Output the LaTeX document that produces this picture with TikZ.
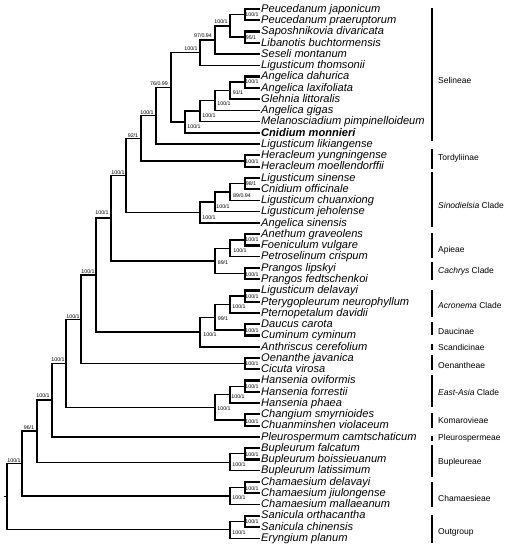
\documentclass[tikz,border=0pt]{standalone}
\usepackage{fontspec}
\setmainfont{Liberation Sans}
\usetikzlibrary{calc}

% clade: [style]{name}{x}{upper child}{lower child}{support}{label x}{label y}
\newcommand{\clade}[8][branch]{%
  \coordinate (#2m) at ($(#4)!0.5!(#5)$);
  \coordinate (#2) at (#3,0|-#2m);
  \draw[#1] (#4) -| (#2) |- (#5);
  \node[support] (#2s) at (#7,#8) {#6};
}

\begin{document}
\begin{tikzpicture}
  [x=1pt, y=-1pt,
    branch/.style={line width=1.4pt},
    cherry/.style={line width=2.2pt},
    bar/.style={line width=1.5pt},
    leaf/.style={
        anchor=west,
        inner sep=1.5pt,
        text height=8.5pt,
        text depth=2pt,
        font=\fontsize{11.1}{12}\selectfont\itshape,
      },
    support/.style={inner sep=0pt, font=\fontsize{5.3}{6}\selectfont},
    group/.style={anchor=west, inner sep=0pt, font=\fontsize{8.5}{10}\selectfont},
  ]
  \useasboundingbox (0,0) rectangle (508,550);

  % taxa
  \foreach \taxon [count=\i] in {Peucedanum japonicum, Peucedanum praeruptorum,
      Saposhnikovia divaricata, Libanotis buchtormensis, Seseli montanum,
      Ligusticum thomsonii, Angelica dahurica, Angelica laxifoliata,
      Glehnia littoralis, Angelica gigas, Melanosciadium pimpinelloideum,
      {\bfseries Cnidium monnieri}, Ligusticum likiangense, Heracleum yungningense,
      Heracleum moellendorffii, Ligusticum sinense, Cnidium officinale,
      Ligusticum chuanxiong, Ligusticum jeholense, Angelica sinensis,
      Anethum graveolens, Foeniculum vulgare, Petroselinum crispum,
      Prangos lipskyi, Prangos fedtschenkoi, Ligusticum delavayi,
      Pterygopleurum neurophyllum, Pternopetalum davidii, Daucus carota,
      Cuminum cyminum, Anthriscus cerefolium, Oenanthe javanica, Cicuta virosa,
      Hansenia oviformis, Hansenia forrestii, Hansenia phaea,
      Changium smyrnioides, Chuanminshen violaceum, Pleurospermum camtschaticum,
      Bupleurum falcatum, Bupleurum boissieuanum, Bupleurum latissimum,
      Chamaesium delavayi, Chamaesium jiulongense, Chamaesium mallaeanum,
      Sanicula orthacantha, Sanicula chinensis, Eryngium planum}
    \node[leaf] (t\i) at (259.5,{9+(\i-1)*11.26}) {\taxon};

  % Selineae
  \clade[cherry]{nA}{245}{t1.west}{t2.west}{100/1}{252}{15}
  \clade[cherry]{nB}{245}{t3.west}{t4.west}{95/1}{251}{38}
  \clade{nC}{230}{nA}{nB}{100/1}{221}{22}
  \clade{nD}{215}{nC}{t5.west}{97/0.94}{203}{36}
  \clade{nE}{200}{nD}{t6.west}{100/1}{191}{49}
  \clade[cherry]{nF}{245}{t7.west}{t8.west}{100/1}{252}{82}
  \clade{nG}{230}{nF}{t9.west}{91/1}{238}{92.5}
  \clade{nH}{215}{nG}{t10.west}{100/1}{224}{104}
  \clade{nI}{200}{nH}{t11.west}{100/1}{209}{116}
  \clade{nJ}{185}{nI}{t12.west}{100/1}{194}{127}
  \clade{nK}{171}{nE}{nJ}{76/0.99}{159}{84}
  \clade{nL}{156}{nK}{t13.west}{100/1}{147}{113}
  % Tordyliinae
  \clade[cherry]{nN}{245}{t14.west}{t15.west}{100/1}{252}{162}
  \clade{nM}{141}{nL}{nN}{92/1}{133}{136}
  % Sinodielsia
  \clade[cherry]{nO}{245}{t16.west}{t17.west}{98/1}{251}{184}
  \clade{nP}{230}{nO}{t18.west}{89/0.94}{242}{196}
  \clade{nQ}{215}{nP}{t19.west}{100/1}{223}{207}
  \clade{nR}{200}{nQ}{t20.west}{100/1}{209}{218}
  \clade{nS}{126}{nM}{nR}{100/1}{118}{173}
  % Apieae and Cachrys
  \clade[cherry]{nT}{245}{t21.west}{t22.west}{100/1}{252}{240}
  \clade{nU}{230}{nT}{t23.west}{100/1}{240}{251}
  \clade[cherry]{nW}{245}{t24.west}{t25.west}{100/1}{252}{275}
  \clade{nV}{215}{nU}{nW}{89/1}{223}{263}
  \clade{nX}{111}{nS}{nV}{100/1}{102}{213}
  % Acronema, Daucinae, Scandicinae
  \clade[cherry]{nAA}{245}{t26.west}{t27.west}{100/1}{252}{297}
  \clade{nAB}{230}{nAA}{t28.west}{100/1}{239}{307}
  \clade[cherry]{nAC}{245}{t29.west}{t30.west}{100/1}{252}{331}
  \clade{nAD}{215}{nAB}{nAC}{99/1}{223}{319}
  \clade{nZ}{200}{nAD}{t31.west}{100/1}{210}{335}
  \clade{nY}{96}{nX}{nZ}{100/1}{88}{272}
  % Oenantheae
  \clade[cherry]{nAE}{245}{t32.west}{t33.west}{100/1}{252}{364}
  \clade{nAF}{81}{nY}{nAE}{100/1}{73}{317}
  % East-Asia and Komarovieae
  \clade[cherry]{nAI}{245}{t34.west}{t35.west}{100/1}{252}{387}
  \clade{nAJ}{230}{nAI}{t36.west}{100/1}{238}{397}
  \clade[cherry]{nAK}{245}{t37.west}{t38.west}{100/1}{252}{422}
  \clade{nAL}{215}{nAJ}{nAK}{100/1}{224}{409}
  \clade{nAG}{66}{nAF}{nAL}{100/1}{58}{360}
  \clade{nAH}{52}{nAG}{t39.west}{100/1}{43}{396}
  % Bupleureae
  \clade[cherry]{nAM}{245}{t40.west}{t41.west}{100/1}{252}{455}
  \clade{nAN}{230}{nAM}{t42.west}{100/1}{239}{465}
  \clade{nAO}{37}{nAH}{nAN}{96/1}{29}{428}
  % Chamaesieae
  \clade[cherry]{nAP}{245}{t43.west}{t44.west}{100/1}{252}{489}
  \clade{nAQ}{230}{nAP}{t45.west}{100/1}{239}{498}
  \clade{nAR}{22}{nAO}{nAQ}{100/1}{14}{461}
  % outgroup
  \clade[cherry]{nAS}{245}{t46.west}{t47.west}{100/1}{252}{522}
  \clade{nAT}{230}{nAS}{t48.west}{100/1}{239}{533}

  % root
  \coordinate (rootm) at ($(nAR)!0.5!(nAT)$);
  \coordinate (root) at (7,0|-rootm);
  \coordinate (base) at ($(root)+(-3,0)$);
  \draw[branch] (nAR) -| (root) |- (nAT);
  \draw[branch] (base) -- (root);

  % groups
  \foreach \ya/\yb/\ym/\txt [count=\j] in {8/141/80/Selineae,
      149/169/158/Tordyliinae, 172/227/205/{\textit{Sinodielsia} Clade},
      233/258/250/Apieae, 262/280/271/{\textit{Cachrys} Clade},
      290/317/305/{\textit{Acronema} Clade}, 322/335/331/Daucinae,
      344/350/347/Scandicinae, 355/370/365/Oenantheae,
      375/407/392/{\textit{East-Asia} Clade}, 413/428/420/Komarovieae,
      436/441/438/Pleurospermeae, 445/477/462/Bupleureae,
      482/507/498/Chamaesieae, 515/543/532/Outgroup}
  {
    \draw[bar] (432,\ya) -- (432,\yb);
    \node[group] (g\j) at (438,\ym) {\txt};
  }
\end{tikzpicture}
\end{document}
